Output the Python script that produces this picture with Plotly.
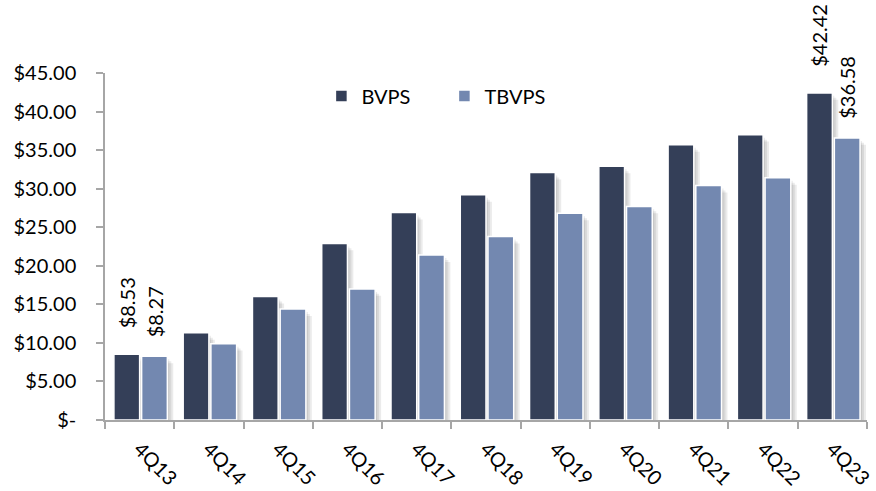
import plotly.graph_objects as go

quarters = ["4Q13", "4Q14", "4Q15", "4Q16", "4Q17", "4Q18", "4Q19", "4Q20", "4Q21", "4Q22", "4Q23"]
bvps = [8.53, 11.3, 16.0, 22.9, 26.9, 29.2, 32.1, 32.9, 35.7, 37.0, 42.42]
tbvps = [8.27, 9.9, 14.4, 17.0, 21.4, 23.8, 26.8, 27.7, 30.4, 31.4, 36.58]
labelled = ["4Q13", "4Q23"]

dark = "#343F58"
light = "#7388B0"
font = "Lato"
px_x = 1 / 70.0      # one pixel in category units
px_y = 45 / 351      # one pixel in value units

bar_w = 26 * px_x
off_b = -26 * px_x
off_t = 2 * px_x

fig = go.Figure()

# soft drop shadows to the right of each bar
for off, vals in ((off_b, bvps), (off_t, tbvps)):
    for k in (2, 4, 6):
        fig.add_trace(go.Bar(
            x=quarters, y=[v - (k + 1) * px_y for v in vals],
            offset=off + k * px_x, width=bar_w,
            marker=dict(color="rgba(0,0,0,0.08)", line=dict(width=0)),
            showlegend=False, hoverinfo="skip"))

fig.add_trace(go.Bar(
    x=quarters, y=bvps, name="BVPS", offset=off_b, width=bar_w,
    marker=dict(color=dark, line=dict(color="white", width=1.5))))
fig.add_trace(go.Bar(
    x=quarters, y=tbvps, name="TBVPS", offset=off_t, width=bar_w,
    marker=dict(color=light, line=dict(color="white", width=1.5))))

for q, b, t in zip(quarters, bvps, tbvps):
    if q not in labelled:
        continue
    for val, dx, gap in ((b, -13, 24), (t, 15, 17)):
        fig.add_annotation(
            x=q, y=val, text="${:.2f}".format(val), showarrow=False,
            textangle=-90, xshift=dx, yshift=gap, yanchor="bottom",
            font=dict(family=font, size=20, color="black"))

fig.update_layout(
    width=876, height=491,
    barmode="overlay",
    paper_bgcolor="white", plot_bgcolor="white",
    margin=dict(l=105, r=1, t=73, b=67),
    font=dict(family=font, size=20, color="black"),
    legend=dict(orientation="h", x=0.284, y=0.934, yanchor="middle",
                xanchor="left", bgcolor="rgba(0,0,0,0)",
                entrywidth=78, entrywidthmode="pixels",
                font=dict(family=font, size=20)),
    xaxis=dict(
        type="category", range=[-0.5, 10.5],
        showline=True, linecolor="#A6A6A6", linewidth=1.5,
        ticks="outside", tickson="boundaries", ticklen=7,
        tickcolor="#A6A6A6", tickwidth=1.5,
        tickangle=45, ticklabelstandoff=8, showgrid=False),
    yaxis=dict(
        range=[0, 45], tickvals=[0, 5, 10, 15, 20, 25, 30, 35, 40, 45],
        ticktext=["$-", "$5.00", "$10.00", "$15.00", "$20.00", "$25.00",
                  "$30.00", "$35.00", "$40.00", "$45.00"],
        showline=True, linecolor="#A6A6A6", linewidth=1.5,
        ticks="outside", ticklen=7, tickcolor="#A6A6A6", tickwidth=1.5,
        ticklabelstandoff=16, showgrid=False, zeroline=False),
)

# drop the default page margin so the figure sits at the window corner
fig.write_html("out.html", config={"displayModeBar": False},
               post_script="document.body.style.margin='0px';")
